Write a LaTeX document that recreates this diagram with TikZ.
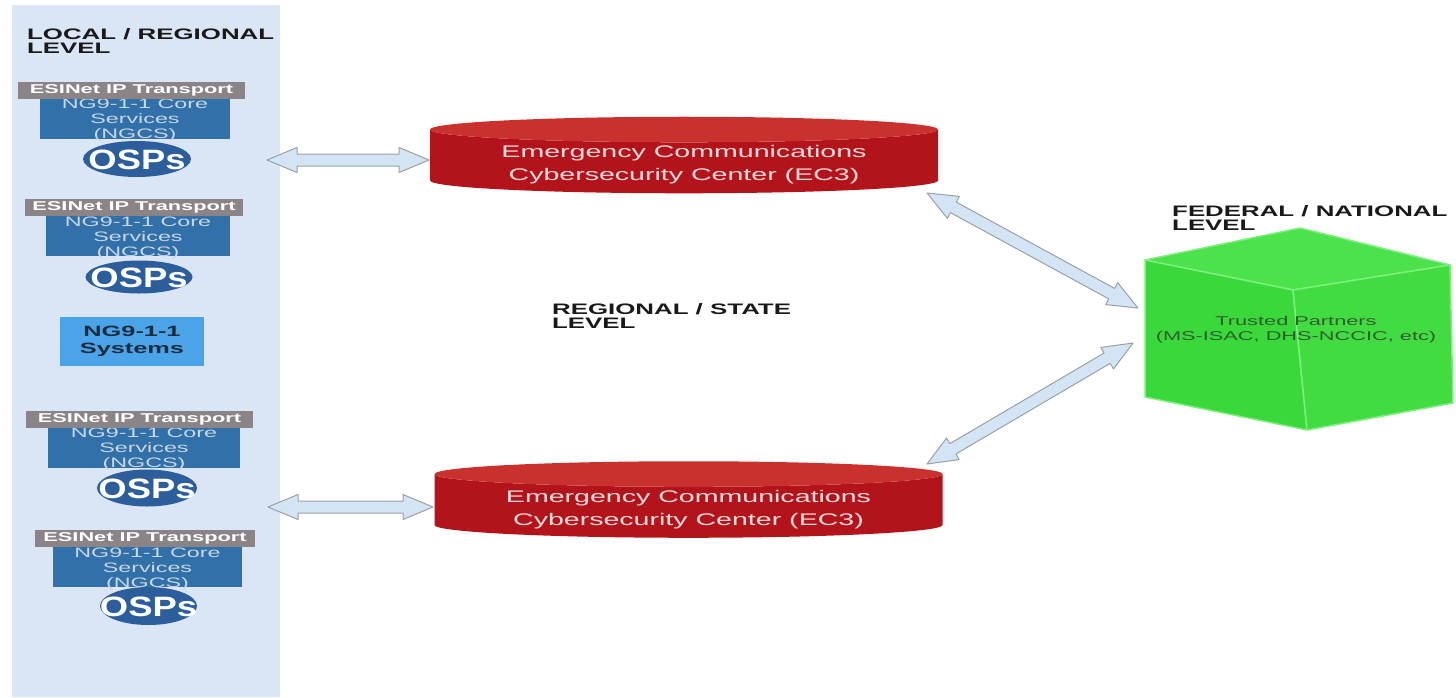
\documentclass[tikz,border=0pt]{standalone}
\usepackage{fontspec}
\setmainfont{Liberation Sans}
\newfontfamily\widefont[FakeStretch=1.7]{Liberation Sans}
\newfontfamily\ospfont[FakeStretch=1.3]{Liberation Sans}
\usetikzlibrary{shapes.geometric,calc,positioning}
\definecolor{panelblue}{HTML}{DAE5F5}
\definecolor{esigray}{HTML}{8A8486}
\definecolor{ngcsblue}{HTML}{3170A8}
\definecolor{ngcstext}{HTML}{C9D6E4}
\definecolor{ospblue}{HTML}{2C5E9C}
\definecolor{sysblue}{HTML}{4BA4E8}
\definecolor{systext}{HTML}{1C2B3D}
\definecolor{ecred}{HTML}{B3141B}
\definecolor{ectop}{HTML}{C8312E}
\definecolor{ectext}{HTML}{F3DCDC}
\definecolor{arrowfill}{HTML}{D3E5F4}
\definecolor{arrowline}{HTML}{9AA0A6}
\definecolor{cubeleft}{HTML}{3AD83A}
\definecolor{cuberight}{HTML}{42DC42}
\definecolor{cubetop}{HTML}{4CE24C}
\definecolor{cubeedge}{HTML}{7DEF7D}
\definecolor{cubetext}{HTML}{2E5E2E}
\tikzset{
    level/.style={font=\widefont\bfseries\fontsize{15.2}{14}\selectfont,align=left,anchor=north west,inner sep=0pt,text=black!90},
    esinet/.style={fill=esigray,text=white,font=\widefont\bfseries\fontsize{12.8}{14}\selectfont,minimum height=17pt,inner sep=0pt},
    ngcs/.style={fill=ngcsblue,text=ngcstext,font=\widefont\fontsize{13.7}{15}\selectfont,align=center,inner sep=0pt,text height=40pt,text depth=-3pt},
    osp/.style={ellipse,fill=ospblue,text=white,font=\ospfont\bfseries\fontsize{28}{28}\selectfont,inner sep=0pt,text height=20pt,text depth=0pt},
    system/.style={fill=sysblue,text=systext,font=\widefont\bfseries\fontsize{14.9}{17}\selectfont,align=center,minimum width=144pt,minimum height=49pt},
    ec3/.style={cylinder,shape border rotate=90,aspect=0.07,cylinder uses custom fill,cylinder body fill=ecred,cylinder end fill=ectop,minimum width=508pt,minimum height=67pt,inner sep=0pt,text=ectext,font=\widefont\fontsize{16.8}{23}\selectfont,align=center,text height=38pt,text depth=-4pt},
    conn/.style={fill=arrowfill,draw=arrowline,line width=1pt,line join=round},
    face/.style={draw=cubeedge,line width=1.5pt,line join=round}
}
% wide two-headed block arrow between two named points
\newcommand\dblarrow[2]{%
    \coordinate (da1) at ($(#1)!30pt!(#2)$);
    \coordinate (da2) at ($(#2)!30pt!(#1)$);
    \path[conn] (#1) -- ($(da1)!12.5pt!90:(#2)$) -- ($(da1)!6pt!90:(#2)$)
        -- ($(da2)!6pt!-90:(#1)$) -- ($(da2)!12.5pt!-90:(#1)$) -- (#2)
        -- ($(da2)!12.5pt!90:(#1)$) -- ($(da2)!6pt!90:(#1)$)
        -- ($(da1)!6pt!-90:(#2)$) -- ($(da1)!12.5pt!-90:(#2)$) -- cycle;
}
\begin{document}
\begin{tikzpicture}[x=1pt,y=-1pt]
    \useasboundingbox (0,0) rectangle (1456,697);

    % local / regional panel
    \node[fill=panelblue,minimum width=268pt,minimum height=692pt,inner sep=0pt] (panel) at (146,351) {};
    \node[level] (local) at (27,28) {LOCAL / REGIONAL\\LEVEL};

    \node[ngcs,minimum width=190pt] (ngcs1) at (135,118.5) {NG9-1-1 Core\\Services\\(NGCS)};
    \node[esinet,minimum width=227pt] (esi1) at (131.5,90) {ESINet IP Transport};
    \node[osp,minimum width=108pt,minimum height=36pt] (osp1) at (137,159) {\makebox[0pt]{OSPs}};

    \node[ngcs,minimum width=184pt] (ngcs2) at (138,236) {NG9-1-1 Core\\Services\\(NGCS)};
    \node[esinet,minimum width=218pt] (esi2) at (134,207.5) {ESINet IP Transport};
    \node[osp,minimum width=107pt,minimum height=33pt] (osp2) at (139,277) {\makebox[0pt]{OSPs}};

    \node[system] (sys) at (132,341.5) {NG9-1-1\\Systems};

    \node[ngcs,minimum width=192pt] (ngcs3) at (144,447.5) {NG9-1-1 Core\\Services\\(NGCS)};
    \node[esinet,minimum width=227pt] (esi3) at (139.5,419.5) {ESINet IP Transport};
    \node[osp,minimum width=100pt,minimum height=37pt] (osp3) at (147,488) {\makebox[0pt]{OSPs}};

    \node[ngcs,minimum width=189pt] (ngcs4) at (147.5,567) {NG9-1-1 Core\\Services\\(NGCS)};
    \node[esinet,minimum width=220pt] (esi4) at (145,538) {ESINet IP Transport};
    \node[osp,minimum width=97pt,minimum height=38pt] (osp4) at (148.5,606) {\makebox[0pt]{OSPs}};

    % regional / state level
    \node[ec3] (ec3a) at (684,161.5) {Emergency Communications\\Cybersecurity Center (EC3)};
    \node[ec3] (ec3b) at (688.5,506) {Emergency Communications\\Cybersecurity Center (EC3)};
    \node[level] (state) at (552,303) {REGIONAL / STATE\\LEVEL};

    % federal / national cube
    \coordinate (c top) at (1300,228);
    \coordinate (c left) at (1145,260);
    \coordinate (c right) at (1450,265);
    \coordinate (c mid) at (1293,290);
    \coordinate (c bl) at (1145,397);
    \coordinate (c br) at (1453,403);
    \coordinate (c bot) at (1307,430);
    \path[face,fill=cubetop] (c left) -- (c top) -- (c right) -- (c mid) -- cycle;
    \path[face,fill=cubeleft] (c left) -- (c mid) -- (c bot) -- (c bl) -- cycle;
    \path[face,fill=cuberight] (c mid) -- (c right) -- (c br) -- (c bot) -- cycle;
    \node[text=cubetext,font=\widefont\fontsize{12.8}{15}\selectfont,align=center] (partners) at (1296,330) {Trusted Partners\\(MS-ISAC, DHS-NCCIC, etc)};
    \node[level] (federal) at (1172,205) {FEDERAL / NATIONAL\\LEVEL};

    % connectors
    \coordinate (a1w) at (267,160);
    \coordinate (a1e) at (429,160);
    \coordinate (a2w) at (268,507);
    \coordinate (a2e) at (433,507);
    \coordinate (a3s) at (927,193);
    \coordinate (a3e) at (1138,308);
    \coordinate (a4s) at (927,464);
    \coordinate (a4e) at (1133,343);
    \dblarrow{a1w}{a1e}
    \dblarrow{a2w}{a2e}
    \dblarrow{a3s}{a3e}
    \dblarrow{a4s}{a4e}

\end{tikzpicture}
\end{document}
